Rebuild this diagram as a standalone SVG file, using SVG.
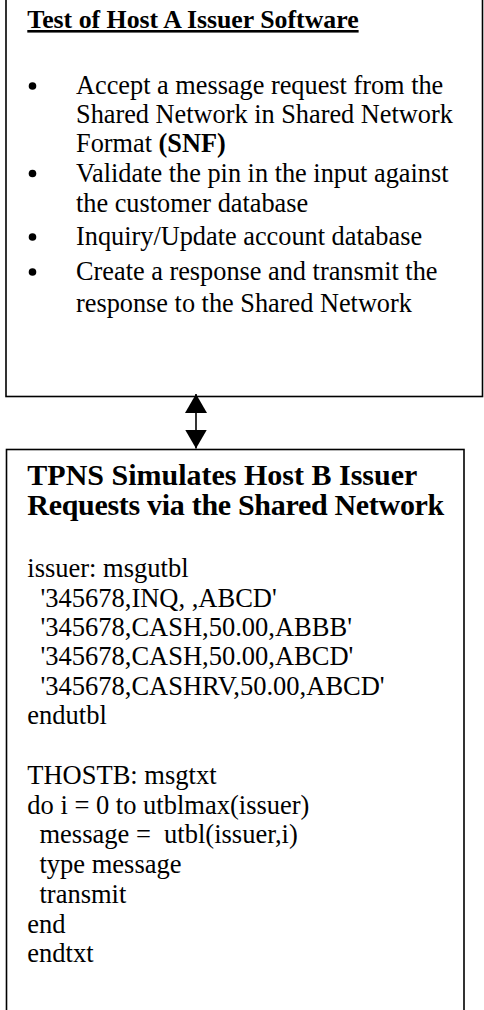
<svg xmlns="http://www.w3.org/2000/svg" width="484" height="1010" viewBox="0 0 484 1010">
<style>
  .box { fill: #fff; stroke: #000; stroke-width: 1.6; }
  .t { font-family: "Liberation Serif", "Times New Roman", serif; fill: #000; }
  .body { font-size: 26.3px; }
  .code { font-size: 26.5px; }
  .h1 { font-size: 25.8px; font-weight: bold; text-decoration: underline; }
  .h2 { font-size: 30px; font-weight: bold; }
  .b { font-weight: bold; }
  .conn { stroke: #000; stroke-width: 1.6; fill: none; }
</style>
<defs>
  <marker id="arrow" viewBox="0 0 19 22" markerWidth="19" markerHeight="22" refX="19" refY="11" orient="auto-start-reverse" markerUnits="userSpaceOnUse">
    <path d="M0,0 L19,11 L0,22 Z" fill="#000"/>
  </marker>
</defs>

<g id="host-a">
  <rect class="box" x="6" y="-10" width="476.5" height="406.5"/>
  <text class="t h1" x="27.3" y="28">Test of Host A Issuer Software</text>
  <circle cx="32.5" cy="86" r="3.8" fill="#000"/>
  <text class="t body" x="76" y="94">Accept a message request from the</text>
  <text class="t body" x="76" y="122.5">Shared Network in Shared Network</text>
  <text class="t body" x="76" y="152">Format <tspan class="b">(SNF)</tspan></text>
  <circle cx="32.5" cy="173.5" r="3.8" fill="#000"/>
  <text class="t body" x="76" y="181.5">Validate the pin in the input against</text>
  <text class="t body" x="76" y="211.5">the customer database</text>
  <circle cx="32.5" cy="237" r="3.8" fill="#000"/>
  <text class="t body" x="76" y="245">Inquiry/Update account database</text>
  <circle cx="32.5" cy="272" r="3.8" fill="#000"/>
  <text class="t body" x="76" y="280">Create a response and transmit the</text>
  <text class="t body" x="76" y="311.5">response to the Shared Network</text>
</g>

<g id="connectors">
  <path class="conn" d="M196,394 L196,448.5" marker-start="url(#arrow)" marker-end="url(#arrow)"/>
</g>

<g id="tpns">
  <rect class="box" x="6.5" y="449.5" width="457.5" height="580"/>
  <text class="t h2" x="27.3" y="485">TPNS Simulates Host B Issuer</text>
  <text class="t h2" x="27.3" y="514.5" textLength="417" lengthAdjust="spacing">Requests via the Shared Network</text>
  <text class="t code" x="27.3" y="577">issuer: msgutbl</text>
  <text class="t code" x="40.5" y="606.5">'345678,INQ, ,ABCD'</text>
  <text class="t code" x="40.5" y="636">'345678,CASH,50.00,ABBB'</text>
  <text class="t code" x="40.5" y="665">'345678,CASH,50.00,ABCD'</text>
  <text class="t code" x="40.5" y="694.5">'345678,CASHRV,50.00,ABCD'</text>
  <text class="t code" x="27.3" y="724">endutbl</text>
  <text class="t code" x="27.3" y="784">THOSTB: msgtxt</text>
  <text class="t code" x="27.3" y="813.5">do i = 0 to utblmax(issuer)</text>
  <text class="t code" x="39.5" y="843" xml:space="preserve">message =  utbl(issuer,i)</text>
  <text class="t code" x="39.5" y="873">type message</text>
  <text class="t code" x="39.5" y="902.5">transmit</text>
  <text class="t code" x="27.3" y="932.5">end</text>
  <text class="t code" x="27.3" y="962">endtxt</text>
</g>
</svg>
